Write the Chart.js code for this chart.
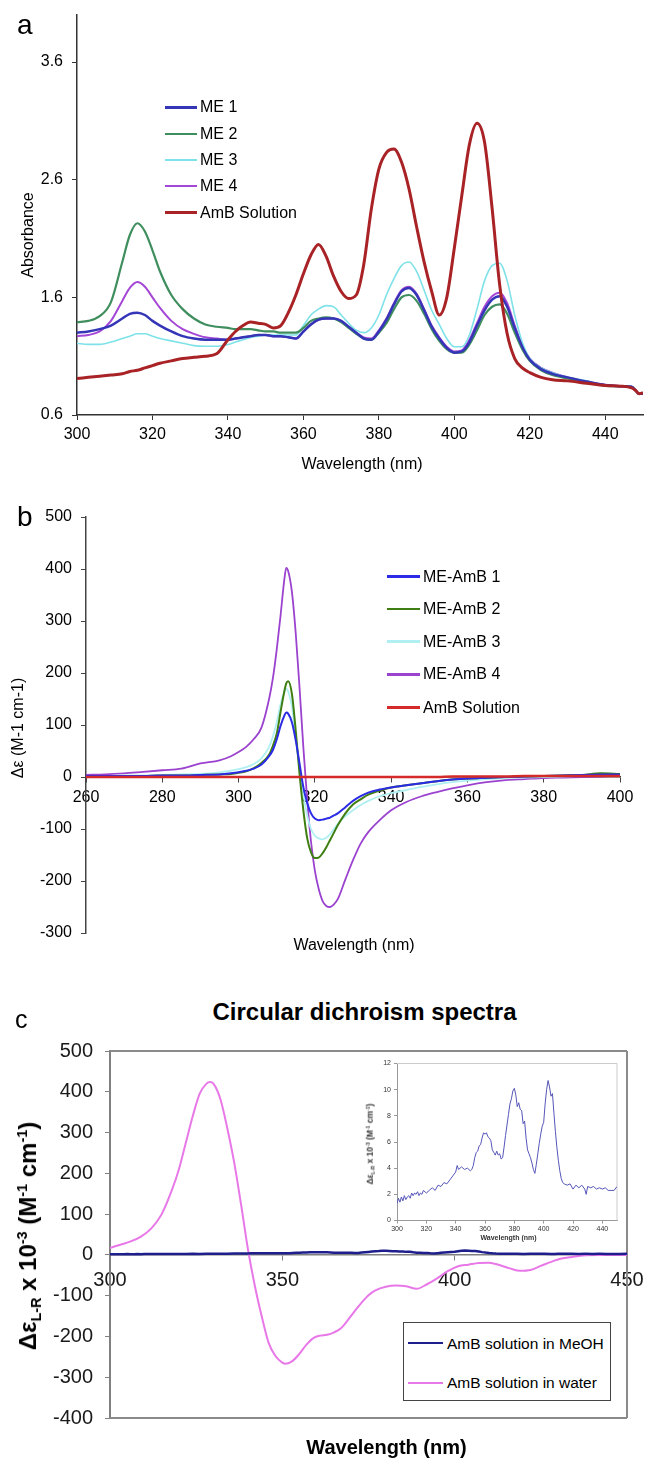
<!DOCTYPE html>
<html><head><meta charset="utf-8">
<script src="https://cdn.jsdelivr.net/npm/chart.js@4.4.1/dist/chart.umd.min.js"></script>
<style>
body{margin:0;background:#fff;}
#page{position:relative;width:645px;height:1459px;overflow:hidden;font-family:"Liberation Sans",Arial,Helvetica,sans-serif;color:#000;background:#fff;}
canvas{position:absolute;}
.t{position:absolute;white-space:nowrap;line-height:1;}
.sb,.sp{font-size:0.6em;line-height:0;position:relative;}
.sb{top:0.35em;}
.sp{top:-0.65em;}
.lg{position:absolute;}
</style></head><body><div id="page">
<canvas id="ca" style="left:0px;top:0px" width="645" height="475"></canvas>
<canvas id="cb" style="left:0px;top:470px" width="645" height="480"></canvas>
<canvas id="cc" style="left:0px;top:1030px" width="645" height="410"></canvas>
<canvas id="ci" style="left:358px;top:1056px;background:#fff" width="262" height="192"></canvas>
</div>
<script>
// ---------- Panel a: absorbance ----------
const wavelengthA = [300,303,306,309,312, 314,316,318,320,322, 325,328,331,334,337,
  340,342,344,346,348, 350,352,354,356,358, 360,362,364,366,368, 370,372,374,376,378,
  380,382,384,386,388, 390,392,394,396,398, 400,402,404,406,408, 410,412,414,416,418, 420,
  423,426,430,435,440,444,447,448,449,450];
const me1A = [1.30,1.31,1.33,1.36,1.42, 1.46,1.47,1.45,1.40,1.36, 1.31,1.27,1.25,1.24,1.24,
  1.24,1.25,1.26,1.27,1.28, 1.28,1.27,1.27,1.26,1.25, 1.31,1.37,1.41,1.42,1.42, 1.40,1.35,1.30,1.25,1.24,
  1.31,1.41,1.54,1.65,1.68, 1.62,1.49,1.35,1.25,1.17, 1.13,1.14,1.22,1.36,1.49, 1.58,1.61,1.52,1.34,1.18, 1.07,
  0.99,0.95,0.92,0.885,0.855,0.845,0.84,0.81,0.78,0.78];
const me2A = [1.39,1.40,1.44,1.56,1.90, 2.13,2.23,2.16,2.00,1.82, 1.62,1.50,1.42,1.37,1.35,
  1.34,1.33,1.33,1.33,1.32, 1.31,1.31,1.30,1.30,1.30, 1.34,1.40,1.42,1.43,1.42, 1.39,1.34,1.29,1.25,1.24,
  1.30,1.38,1.50,1.60,1.62, 1.57,1.46,1.33,1.23,1.16, 1.13,1.13,1.20,1.32,1.45, 1.52,1.54,1.46,1.30,1.16, 1.06,
  0.98,0.94,0.91,0.88,0.85,0.845,0.84,0.81,0.78,0.78];
const me3A = [1.21,1.20,1.20,1.22,1.25, 1.27,1.29,1.29,1.27,1.25, 1.23,1.21,1.19,1.185,1.185,
  1.20,1.22,1.24,1.26,1.27, 1.28,1.28,1.28,1.28,1.28, 1.36,1.45,1.50,1.53,1.52, 1.45,1.38,1.32,1.30,1.34,
  1.45,1.62,1.76,1.87,1.90, 1.82,1.66,1.49,1.37,1.25, 1.18,1.18,1.28,1.50,1.74, 1.87,1.89,1.74,1.45,1.22, 1.08,
  1.00,0.96,0.92,0.89,0.85,0.845,0.84,0.81,0.78,0.78];
const me4A = [1.27,1.28,1.31,1.40,1.57, 1.68,1.73,1.69,1.60,1.51, 1.40,1.33,1.29,1.26,1.25,
  1.24,1.25,1.26,1.27,1.28, 1.28,1.27,1.27,1.26,1.25, 1.31,1.37,1.41,1.42,1.42, 1.40,1.35,1.30,1.26,1.25,
  1.32,1.42,1.55,1.66,1.69, 1.63,1.50,1.36,1.26,1.18, 1.14,1.15,1.24,1.38,1.52, 1.61,1.64,1.55,1.36,1.19, 1.08,
  1.00,0.96,0.92,0.885,0.855,0.845,0.84,0.81,0.78,0.78];
const ambA = [0.91,0.92,0.93,0.94,0.95, 0.97,0.98,1.00,1.02,1.04, 1.06,1.08,1.09,1.10,1.12,
  1.24,1.31,1.36,1.39,1.38, 1.37,1.34,1.36,1.47,1.62, 1.80,1.96,2.05,1.95,1.78, 1.65,1.59,1.62,1.88,2.35,
  2.69,2.83,2.86,2.75,2.52, 2.20,1.90,1.65,1.45,1.60, 2.02,2.47,2.90,3.08,2.92, 2.36,1.71,1.29,1.08,1.00, 0.96,
  0.92,0.90,0.89,0.87,0.85,0.845,0.83,0.81,0.78,0.79];
const xTicksA = [300,320,340,360,380,400,420,440];
const yTicksA = [0.6,1.6,2.6,3.6];
const namesA = ['ME 1','ME 2','ME 3','ME 4','AmB Solution'];

// ---------- Panel b: CD of ME-AmB ----------
const wavelengthB = [260,265,270,275,280,285,290,295, 298,300,302,304,306,308,
  309,310,311,312,312.5, 313,314,315,316,317,318,319,320,321,322,323,324,325,326,
  328,330,332,334, 337,340,344,348,352,356,360, 365,370,375,380,385,390,395,400];
const meAmb1B = [2,2,2,2,3,3,4,5, 7,9,12,16,24,40,
  52,72,98,118,124, 122,105,70,25,-20,-50,-70,-80,-83,-82,-80,-78,-74,-70,
  -58,-46,-37,-30, -24,-20,-16,-12,-8,-5,-3, -1.5,0,1,2,3,4,5,5];
const meAmb2B = [2,2,2,2,3,3,4,5, 6,8,11,17,27,43,
  60,83,125,165,180, 184,159,88,5,-65,-118,-145,-156,-155,-147,-135,-121,-107,-93,
  -70,-53,-43,-34, -26,-20,-16,-12,-8,-5,-3, -1.5,0,1,2,3,4,7,6];
const meAmb3B = [2,2,3,3,4,5,6,9, 12,15,19,25,36,58,
  78,105,140,163,170, 165,135,75,15,-35,-75,-100,-113,-118,-120,-117,-110,-100,-90,
  -75,-64,-54,-46, -37,-31,-25,-19,-14,-10,-7, -4,-2,-1,0,1,2,3,3];
const meAmb4B = [4,5,7,10,13,16,26,32, 40,48,58,73,95,150,
  190,245,310,380,402, 396,355,275,170,55,-45,-125,-180,-215,-238,-248,-250,-245,-235,
  -197,-160,-128,-106, -83,-64,-48,-37,-29,-22,-16, -10,-6,-4,-2,-1,0,1,2];
const ambB = [0,0,0,0,0,0,0,0, 0,0,0,0,0,0,
  0,0,0,0,0, 0,0,0,0,0,0,0,0,0,0,0,0,0,0,
  0,0,0,0, 0,0,0,0,0,1,1, 1,1,2,2,2,2,2,2];
const xTicksB = [260,280,300,320,340,360,380,400];
const yTicksB = [-300,-200,-100,0,100,200,300,400,500];
const namesB = ['ME-AmB 1','ME-AmB 2','ME-AmB 3','ME-AmB 4','AmB Solution'];

// ---------- Panel c: circular dichroism spectra ----------
const wavelengthWater = [300,303,306,309,312,315,318, 320,322,324,326,328, 329,330,
  332,334,336,338,340,342,344,346,348,350, 351,
  353,355,357,359,361,363,365,367,369,371,373,375,377,
  380,383,386,389,392,395,398,401,404,407,410,413,416,419,422,425,428,431,434,
  438,442,446,450];
const water = [17,25,33,45,65,100,160, 210,275,340,395,420, 424,420,
  383,312,228,125,15,-75,-150,-215,-248,-264, -267,
  -260,-242,-220,-204,-198,-196,-190,-180,-160,-138,-117,-99,-87,
  -78,-75,-77,-83,-72,-57,-40,-28,-24,-20,-19,-25,-33,-39,-37,-27,-17,-9,-5,
  -1,0,0,0];
const wavelengthMeOH = [300,301,302,303,304,305,306,307,308,309,
  310,311,312,313,314,315,316,317,318,320,
  322,324,326,328,330,332,334,336,338,340,
  341,342,344,346,348,350,351,352,353,354,
  355,356,357,358,359,360,361,362,363,364,
  365,366,367,368,369,370,371,372,373,374,
  375,376,377,378,379,380,381,382,383,384,
  385,386,387,388,389,390,391,392,393,394,
  395,396,397,398,399,400,401,402,403,404,
  405,406,407,408,409,410,411,412,413,414,
  416,418,420,422,424,426,428,429,430,432,
  434,436,438,440,442,444,446,448,450];
const meoh = [1.3,1.7,1.4,1.8,1.5,1.9,1.6,1.8,1.9,1.7,
  2.1,1.9,2.1,2.0,2.2,1.9,2.1,2.0,2.3,2.1,
  2.3,2.5,2.3,2.7,2.6,2.9,2.8,3.1,3.4,3.7,
  4.2,3.9,4.1,3.9,4.0,3.8,3.9,4.2,4.8,5.2,
  5.3,5.7,5.8,6.3,6.7,6.6,6.7,6.4,6.3,6.1,
  5.4,5.2,5.0,5.3,5.0,5.1,4.7,4.8,5.6,6.5,
  7.3,8.1,8.9,9.3,9.9,10.1,9.6,8.7,9.0,8.5,
  8.4,7.4,7.6,6.3,5.4,5.1,4.8,4.4,3.9,3.6,
  4.3,5.1,5.9,6.6,7.2,7.5,8.9,10.0,10.7,10.2,
  9.5,9.7,8.2,6.8,5.6,4.6,3.8,3.2,2.9,2.8,
  2.7,2.8,2.4,2.7,2.5,2.7,2.4,2.0,2.6,2.5,
  2.6,2.4,2.5,2.4,2.5,2.3,2.3,2.3,2.6];
const xTicksC = [300,350,400,450];
const yTicksC = [-400,-300,-200,-100,0,100,200,300,400,500];
const xTicksInset = [300,320,340,360,380,400,420,440];
const yTicksInset = [0,2,4,6,8,10,12];
const namesC = ['AmB solution in MeOH','AmB solution in water'];

// ---------- helpers ----------
const FONT = '"Liberation Sans", Arial, Helvetica, sans-serif';
const page = document.getElementById('page');

function pts(xs, ys) { return xs.map((x, i) => ({x: x, y: ys[i]})); }
function ds(label, xs, ys, color, width, extra) {
  return Object.assign({label: label, data: pts(xs, ys), borderColor: color, backgroundColor: color,
    borderWidth: width, pointRadius: 0, fill: false, cubicInterpolationMode: 'monotone'}, extra || {});
}
function axis(o) {
  return {
    type: 'linear', min: o.min, max: o.max, position: o.position,
    afterBuildTicks: s => { s.ticks = o.ticks.map(v => ({value: v})); },
    afterFit: s => {
      if (o.size != null) { if (s.isHorizontal()) s.height = o.size; else s.width = o.size; }
      s.paddingLeft = 0; s.paddingRight = 0; s.paddingTop = 0; s.paddingBottom = 0;
    },
    grid: {display: true, drawOnChartArea: false, drawTicks: true, tickLength: o.tl,
      tickColor: o.color, tickWidth: o.tw || 1, color: o.color},
    border: {display: true, color: o.color, width: o.bw},
    ticks: {color: o.labelColor || '#000', font: {family: FONT, size: o.fs}, padding: o.pad,
      maxRotation: 0, minRotation: 0, autoSkip: false,
      callback: o.fmt || (v => String(v))}
  };
}
const framePlugin = {
  id: 'frame',
  beforeDatasetsDraw(chart, args, opts) {
    if (!opts || !opts.sides) return;
    const a = chart.chartArea, ctx = chart.ctx;
    ctx.save(); ctx.strokeStyle = opts.color; ctx.lineWidth = opts.width;
    ctx.beginPath();
    if (opts.sides.indexOf('t') >= 0) { ctx.moveTo(a.left, a.top); ctx.lineTo(a.right, a.top); }
    if (opts.sides.indexOf('r') >= 0) { ctx.moveTo(a.right, a.top); ctx.lineTo(a.right, a.bottom); }
    if (opts.sides.indexOf('b') >= 0) { ctx.moveTo(a.left, a.bottom); ctx.lineTo(a.right, a.bottom); }
    if (opts.sides.indexOf('l') >= 0) { ctx.moveTo(a.left, a.top); ctx.lineTo(a.left, a.bottom); }
    ctx.stroke(); ctx.restore();
  }
};
function makeChart(id, datasets, scales, padding, frame) {
  return new Chart(document.getElementById(id), {
    type: 'line',
    data: {datasets: datasets},
    options: {
      responsive: false, animation: false, devicePixelRatio: 1, events: [],
      layout: {padding: padding},
      plugins: {legend: {display: false}, tooltip: {enabled: false}, title: {display: false}, frame: frame || false},
      scales: scales
    },
    plugins: [framePlugin]
  });
}
function txt(html, o) {
  const d = document.createElement('div');
  d.className = 't';
  d.innerHTML = html;
  d.style.fontSize = o.size + 'px';
  d.style.fontWeight = o.bold ? 'bold' : 'normal';
  if (o.color) d.style.color = o.color;
  if (o.rotate) {
    d.style.left = (o.bx - 0.3465 * o.size) + 'px';
    d.style.top = o.cy + 'px';
    d.style.transform = 'translate(-50%,-50%) rotate(-90deg)';
  } else {
    d.style.top = (o.base - 0.8465 * o.size) + 'px';
    d.style.left = o.x + 'px';
    if (o.center) d.style.transform = 'translateX(-50%)';
  }
  page.appendChild(d);
  return d;
}
function legend(chart, rows, o) {
  chart.data.datasets.forEach((d, i) => {
    const y = rows[i];
    const ln = document.createElement('div');
    ln.className = 'lg';
    ln.style.left = o.x1 + 'px'; ln.style.width = (o.x2 - o.x1) + 'px';
    ln.style.top = (y - o.lw / 2) + 'px'; ln.style.height = o.lw + 'px';
    ln.style.background = d.borderColor;
    page.appendChild(ln);
    txt(d.label, {x: o.tx, base: y + 0.358 * o.fs, size: o.fs});
  });
}

// ---------- chart a ----------
const chartA = makeChart('ca', [
  ds(namesA[0], wavelengthA, me1A, '#3535b8', 2.5),
  ds(namesA[1], wavelengthA, me2A, '#3f8e5e', 2.2),
  ds(namesA[2], wavelengthA, me3A, '#7ee2e8', 1.6),
  ds(namesA[3], wavelengthA, me4A, '#a446d6', 2),
  ds(namesA[4], wavelengthA, ambA, '#a82226', 3, {order: -1})
], {
  x: axis({min: 300, max: 450, position: 'bottom', ticks: xTicksA, size: 60, tl: 5, pad: 5, fs: 16, color: '#333', bw: 1.5}),
  y: axis({min: 0.6, max: 4.0, position: 'left', ticks: yTicksA, size: 77, tl: 5, pad: 9, fs: 16, color: '#333', bw: 1.5, fmt: v => v.toFixed(1)})
}, {left: 0, right: 2, top: 15, bottom: 0});

// ---------- chart b ----------
const chartB = makeChart('cb', [
  ds(namesB[0], wavelengthB, meAmb1B, '#2b2be6', 2),
  ds(namesB[1], wavelengthB, meAmb2B, '#3f7e12', 2),
  ds(namesB[2], wavelengthB, meAmb3B, '#b0f0f2', 1.8),
  ds(namesB[3], wavelengthB, meAmb4B, '#9b42cf', 1.8),
  ds(namesB[4], wavelengthB, ambB, '#d42a2a', 2.5, {order: -1})
], {
  x: axis({min: 260, max: 400, position: {y: 0}, ticks: xTicksB, tl: 5, pad: 6, fs: 16, color: '#444', bw: 1.5}),
  y: axis({min: -300, max: 500, position: 'left', ticks: yTicksB, size: 86, tl: 5, pad: 9, fs: 16, color: '#444', bw: 1.5})
}, {left: 0, right: 25, top: 47, bottom: 17});

// ---------- chart c ----------
const chartC = makeChart('cc', [
  ds(namesC[0], wavelengthMeOH, meoh, '#1e1e8c', 2.5, {order: -1, cubicInterpolationMode: 'default', tension: 0}),
  ds(namesC[1], wavelengthWater, water, '#e878e8', 2)
], {
  x: axis({min: 300, max: 450, position: {y: 0}, ticks: xTicksC, tl: 5, pad: 9, fs: 20, color: '#808080', bw: 1.5, labelColor: '#1a1a1a'}),
  y: axis({min: -400, max: 500, position: 'left', ticks: yTicksC, size: 110, tl: 5, pad: 12, fs: 20, color: '#808080', bw: 2, labelColor: '#1a1a1a'})
}, {left: 0, right: 18, top: 21, bottom: 22}, {sides: 'trb', color: '#8a8a8a', width: 2});

// ---------- inset ----------
const chartI = makeChart('ci', [
  ds(namesC[0], wavelengthMeOH, meoh, '#5656b8', 1, {cubicInterpolationMode: 'default', tension: 0})
], {
  x: axis({min: 300, max: 450, position: 'bottom', ticks: xTicksInset, size: 27.5, tl: 3, pad: 1, fs: 7, color: '#999', bw: 1, labelColor: '#333'}),
  y: axis({min: 0, max: 12, position: 'left', ticks: yTicksInset, size: 39, tl: 3, pad: 3, fs: 7, color: '#999', bw: 1, labelColor: '#333'})
}, {left: 0, right: 3, top: 7.5, bottom: 0}, {sides: 'tr', color: '#cccccc', width: 1});

// ---------- texts ----------
txt('a', {x: 17, base: 35, size: 28});
txt('Absorbance', {rotate: true, bx: 33.3, cy: 235, size: 16});
txt('Wavelength (nm)', {x: 362, base: 470, size: 16, center: true});
legend(chartA, [107.3, 134, 160, 186, 212.7], {x1: 165, x2: 197, tx: 200, lw: 2.5, fs: 16});

txt('b', {x: 17, base: 527, size: 28});
txt('Δε (M-1 cm-1)', {rotate: true, bx: 23.3, cy: 728, size: 16});
txt('Wavelength (nm)', {x: 354, base: 951, size: 16, center: true});
legend(chartB, [576.7, 609, 641.7, 674.3, 707.7], {x1: 387, x2: 420, tx: 423, lw: 2.5, fs: 16});

txt('c', {x: 15, base: 1028, size: 25});
txt('Circular dichroism spectra', {x: 364.5, base: 1020, size: 24, bold: true, center: true});
txt('Δε<span class="sb">L-R</span> x 10<span class="sp">-3</span> (M<span class="sp">-1</span> cm<span class="sp">-1</span>)',
  {rotate: true, bx: 36.7, cy: 1236, size: 24, bold: true});
txt('Wavelength (nm)', {x: 386.5, base: 1454, size: 20, bold: true, center: true});
const box = document.createElement('div');
box.className = 'lg';
box.style.cssText = 'left:403px;top:1322px;width:208px;height:79px;border:1.5px solid #444;box-sizing:border-box;background:#fff;';
page.appendChild(box);
legend(chartC, [1343.4, 1383], {x1: 408, x2: 443, tx: 447, lw: 2, fs: 15.5});

txt('Δε<span class="sb">L-R</span> x 10<span class="sp">-3</span> (M<span class="sp">-1</span> cm<span class="sp">-1</span>)',
  {rotate: true, bx: 373.1, cy: 1144, size: 8.5, bold: true, color: '#333'});
txt('Wavelength (nm)', {x: 508.5, base: 1240, size: 7, bold: true, center: true, color: '#333'});
</script></body></html>
